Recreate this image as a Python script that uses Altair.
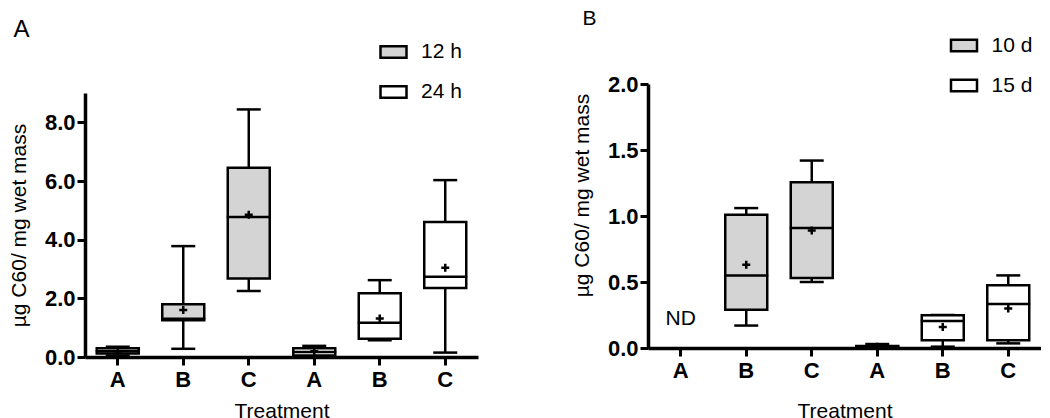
import altair as alt
import pandas as pd

FONT = "Liberation Sans"
GRAY = "#d4d4d4"

# ---------------- Panel A data ----------------
keys_a = ["12h-A", "12h-B", "12h-C", "24h-A", "24h-B", "24h-C"]
groups_a = ["12 h", "12 h", "12 h", "24 h", "24 h", "24 h"]
lo_a = [0.05, 0.28, 2.25, 0.00, 0.57, 0.15]
q1_a = [0.12, 1.25, 2.68, 0.05, 0.62, 2.35]
med_a = [0.20, 1.30, 4.77, 0.17, 1.17, 2.74]
q3_a = [0.30, 1.80, 6.45, 0.30, 2.17, 4.60]
hi_a = [0.35, 3.78, 8.44, 0.38, 2.62, 6.03]
mean_a = [0.20, 1.60, 4.85, 0.20, 1.31, 3.04]
legend_a = ["12 h", "24 h"]
ticks_a = [0, 2, 4, 6, 8]

# ---------------- Panel B data ----------------
axis_keys_b = ["10d-A", "10d-B", "10d-C", "15d-A", "15d-B", "15d-C"]
keys_b = ["10d-B", "10d-C", "15d-A", "15d-B", "15d-C"]
groups_b = ["10 d", "10 d", "15 d", "15 d", "15 d"]
lo_b = [0.17, 0.50, 0.000, 0.010, 0.035]
q1_b = [0.29, 0.53, 0.005, 0.058, 0.058]
med_b = [0.55, 0.91, 0.010, 0.205, 0.334]
q3_b = [1.01, 1.255, 0.015, 0.248, 0.476]
hi_b = [1.06, 1.42, 0.030, 0.250, 0.550]
mean_b = [0.63, 0.89, 0.010, 0.160, 0.300]
legend_b = ["10 d", "15 d"]
ticks_b = [0, 0.5, 1.0, 1.5, 2.0]
nd_key = ["10d-A"]
nd_y = [0.22]
nd_text = ["ND"]

YTITLE = "µg C60/ mg wet mass"


def panel(df, axis_keys, legend_dom, ydom, yticks, yrange, height,
          title, legend_x, legend_y, x_title_pad, y_title_y=None, nd=None):
    xenc = alt.X(
        "key:N",
        sort=axis_keys,
        scale=alt.Scale(domain=axis_keys, paddingInner=0, paddingOuter=0),
        axis=alt.Axis(title="Treatment", labelExpr="substring(datum.label, 4)",
                      labelAngle=0, titlePadding=x_title_pad),
    )
    sc = alt.Scale(domain=ydom, nice=False, zero=False)
    if yrange is not None:
        sc = alt.Scale(domain=ydom, nice=False, zero=False, range=yrange)
    yaxis_kw = dict(values=yticks, format=".1f", title=YTITLE)
    if y_title_y is not None:
        yaxis_kw["titleY"] = y_title_y
    yax = alt.Axis(**yaxis_kw)

    def Y(f):
        return alt.Y(f, scale=sc, axis=yax)

    base = alt.Chart(df)
    whisk = base.mark_rule(color="black", strokeWidth=2.5).encode(
        x=xenc, y=Y("lo:Q"), y2="hi:Q")
    cap_lo = base.mark_tick(color="black", size=24, thickness=2.5, opacity=1).encode(
        x=xenc, y=Y("lo:Q"))
    cap_hi = base.mark_tick(color="black", size=24, thickness=2.5, opacity=1).encode(
        x=xenc, y=Y("hi:Q"))
    box = base.mark_bar(size=42, stroke="black", strokeWidth=2.5, opacity=1).encode(
        x=xenc, y=Y("q1:Q"), y2="q3:Q",
        fill=alt.Fill("group:N",
                      scale=alt.Scale(domain=legend_dom, range=[GRAY, "#ffffff"]),
                      legend=alt.Legend(
                          title=None, orient="none", legendX=legend_x, legendY=legend_y,
                          padding=0, labelFont=FONT, labelFontSize=21, labelColor="black",
                          symbolType="M-1,-0.45H1V0.45H-1Z", symbolSize=676,
                          symbolStrokeColor="black", symbolStrokeWidth=2.5,
                          symbolOpacity=1, rowPadding=14, labelOffset=13)))
    med = base.mark_tick(color="black", size=44, thickness=2.5, opacity=1).encode(
        x=xenc, y=Y("med:Q"))
    mean = base.mark_point(shape="M-1,0H1M0,-1V1", size=64, stroke="black",
                           strokeWidth=2.5, filled=False, opacity=1).encode(
        x=xenc, y=Y("mean:Q"))
    layers = [whisk, cap_lo, cap_hi, box, med, mean]
    if nd is not None:
        layers.append(alt.Chart(nd).mark_text(font=FONT, fontSize=21, color="black").encode(
            x=xenc, y=Y("y:Q"), text="label:N"))
    return alt.layer(*layers).properties(width=393, height=height, title=title)


df_a = pd.DataFrame(dict(key=keys_a, group=groups_a, lo=lo_a, q1=q1_a, med=med_a,
                         q3=q3_a, hi=hi_a, mean=mean_a))
df_b = pd.DataFrame(dict(key=keys_b, group=groups_b, lo=lo_b, q1=q1_b, med=med_b,
                         q3=q3_b, hi=hi_b, mean=mean_b))
df_nd = pd.DataFrame(dict(key=nd_key, y=nd_y, label=nd_text))

title_a = alt.TitleParams(text="A", anchor="start", font=FONT, fontSize=24,
                          fontWeight="normal", color="black", dx=5, offset=-4)
title_b = alt.TitleParams(text="B", anchor="start", font=FONT, fontSize=21,
                          fontWeight="normal", color="black", dx=11, offset=2)

pa = panel(df_a, keys_a, legend_a, [0, 9], ticks_a, [273, 9], 273,
           title_a, 294, -46.5, 10)
pb = panel(df_b, axis_keys_b, legend_b, [0, 2], ticks_b, None, 264,
           title_b, 301.5, -53, 19, y_title_y=111, nd=df_nd)

chart = alt.hconcat(pa, pb, spacing=170, bounds="flush").resolve_scale(
    fill="independent", x="independent", y="independent"
).resolve_legend(fill="independent").properties(
    padding={"left": 0, "top": 0, "right": 0, "bottom": 0}
).configure_view(stroke=None).configure_axis(
    grid=False, domainColor="black", domainWidth=3.5, tickColor="black", tickWidth=3,
    tickSize=8, labelFont=FONT, labelFontWeight="bold", labelFontSize=22,
    labelColor="black", labelPadding=2, titleFont=FONT, titleFontWeight="normal",
    titleFontSize=21, titleColor="black", titlePadding=15
).configure_axisX(labelPadding=4)

chart.save("out.html", embed_options={"renderer": "svg", "actions": False})
